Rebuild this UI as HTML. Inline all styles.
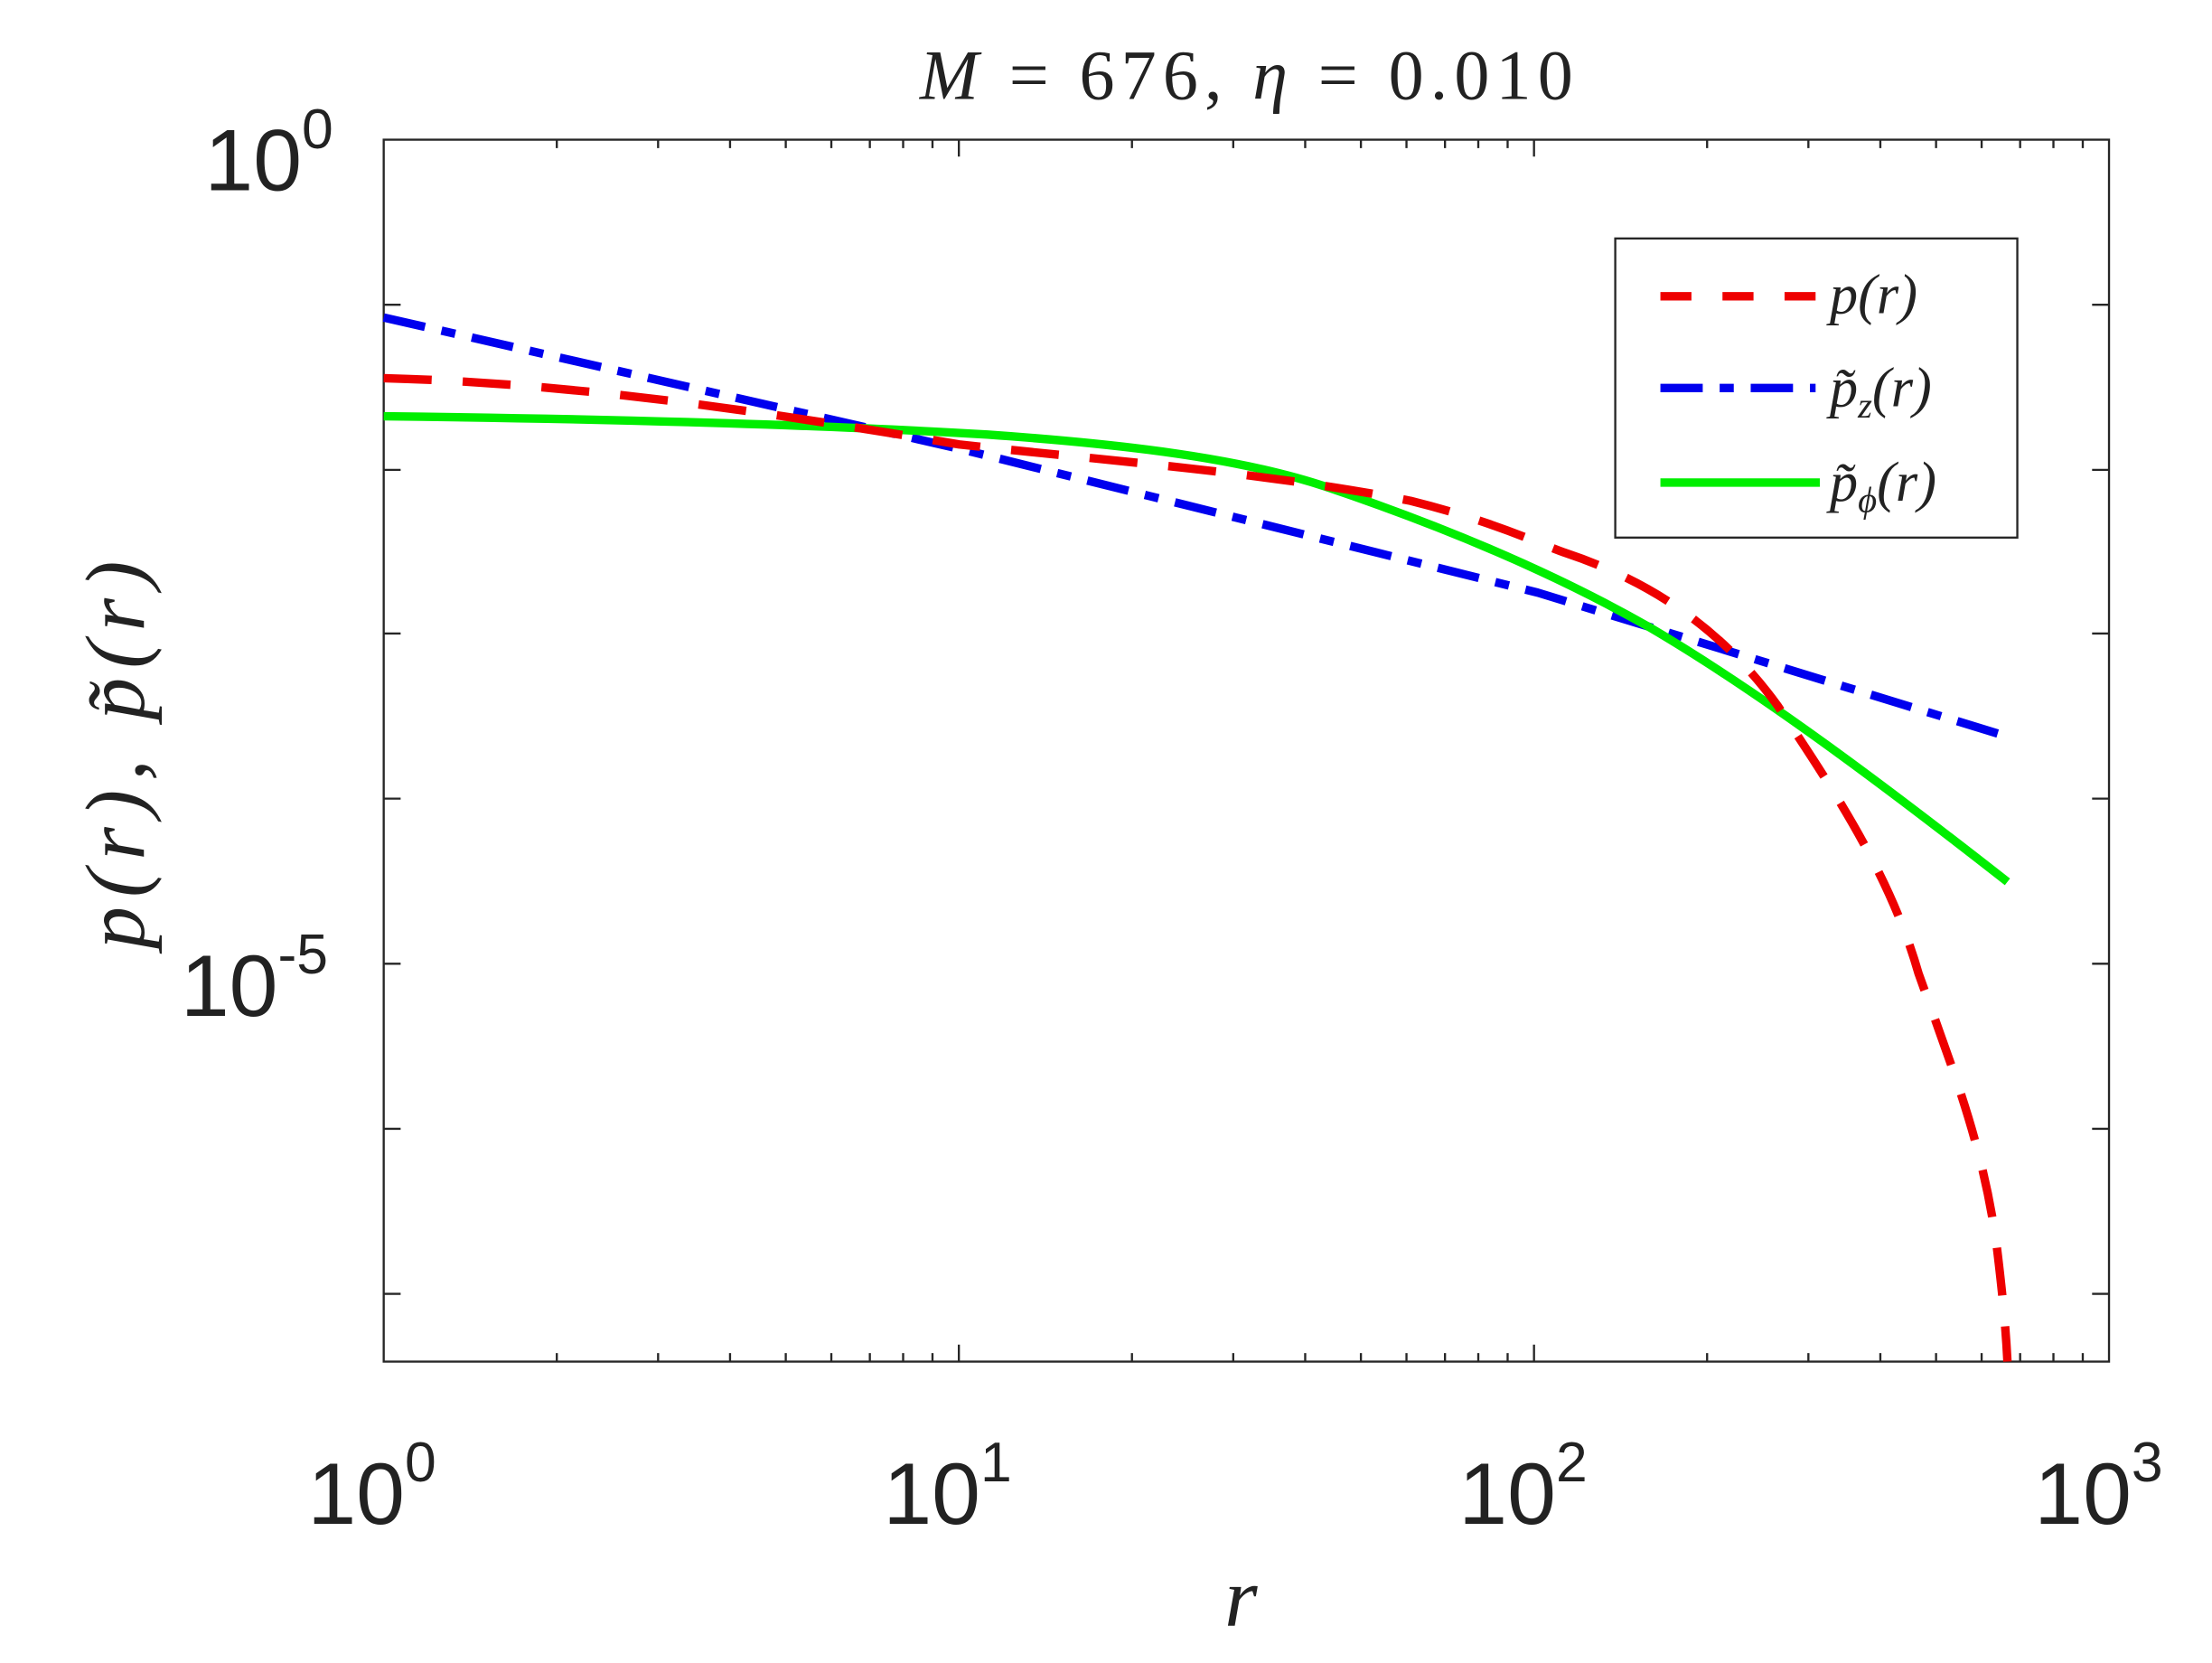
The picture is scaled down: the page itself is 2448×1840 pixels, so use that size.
<!DOCTYPE html>
<html><head><style>html,body{margin:0;padding:0;background:#fff;}svg{display:block;}</style></head>
<body>
<svg width="2448" height="1840" viewBox="0 0 1568 1178.6" preserveAspectRatio="none" xmlns="http://www.w3.org/2000/svg">
<rect width="1568" height="1179" fill="#fff"/>
<g stroke="#262626" stroke-width="1.5" fill="none">
<rect x="272" y="99" width="1223" height="866"/>
<path d="M272,216h12M272,333h12M272,449h12M272,566h12M272,683h12M272,800h12M272,917h12
M1495,216h-12M1495,333h-12M1495,449h-12M1495,566h-12M1495,683h-12M1495,800h-12M1495,917h-12
M679.7,965v-12M1087.4,965v-12M679.7,99v12M1087.4,99v12"/>
<path d="
M394.7,965v-6M466.5,965v-6M517.5,965v-6M557,965v-6M589.3,965v-6M616.6,965v-6M640.2,965v-6M661,965v-6
M802.4,965v-6M874.2,965v-6M925.2,965v-6M964.7,965v-6M997,965v-6M1024.3,965v-6M1047.9,965v-6M1068.7,965v-6
M1210.1,965v-6M1281.9,965v-6M1332.9,965v-6M1372.4,965v-6M1404.7,965v-6M1432,965v-6M1455.6,965v-6M1476.4,965v-6
M394.7,99v6M466.5,99v6M517.5,99v6M557,99v6M589.3,99v6M616.6,99v6M640.2,99v6M661,99v6
M802.4,99v6M874.2,99v6M925.2,99v6M964.7,99v6M997,99v6M1024.3,99v6M1047.9,99v6M1068.7,99v6
M1210.1,99v6M1281.9,99v6M1332.9,99v6M1372.4,99v6M1404.7,99v6M1432,99v6M1455.6,99v6M1476.4,99v6"/>
</g>
<g fill="none" stroke-width="6" stroke-linejoin="round">
<polyline stroke="#0000ee" stroke-dasharray="30,12,10,12" points="272,225 680,318 1090,420 1423,522"/>
<path stroke="#00ee00" d="M272,295 C450,297 600,302 700,308 C800,315 880,325 940,345 C1020,372 1100,405 1170,445 C1250,492 1340,560 1423,625"/>
<path stroke="#ee0000" stroke-dasharray="34,22" d="M272,268 C420,272 560,295 680,315 C780,326 900,335 1000,355 C1060,370 1090,385 1110,392 C1170,412 1220,445 1260,500 C1300,560 1340,620 1360,690 C1385,760 1405,810 1415,880 C1420,920 1422,945 1423,965"/>
</g>
<rect x="1145" y="169" width="285" height="212" fill="#fff" stroke="#262626" stroke-width="1.5"/>
<g stroke-width="6">
<line x1="1177" y1="210" x2="1287" y2="210" stroke="#ee0000" stroke-dasharray="22,22"/>
<line x1="1177" y1="275" x2="1287" y2="275" stroke="#0000ee" stroke-dasharray="30,12,10,12"/>
<line x1="1177" y1="342" x2="1290" y2="342" stroke="#00ee00"/>
</g>
<g font-family="Liberation Serif, serif" font-style="italic" font-size="40" fill="#222">
<text x="1297" y="222">p(r)</text>
<text x="1297" y="288">p̃<tspan font-size="26" dy="8">z</tspan><tspan dy="-8">(r)</tspan></text>
<text x="1297" y="355">p̃<tspan font-size="26" dy="8">ϕ</tspan><tspan dy="-8">(r)</tspan></text>
<text x="652" y="70" font-size="50" textLength="463" lengthAdjust="spacing">M <tspan font-style="normal">= 676,</tspan> η <tspan font-style="normal">= 0.010</tspan></text>
<text x="868" y="1152" font-size="60">r</text>
<text transform="translate(102,535) rotate(-90)" text-anchor="middle" font-size="60" textLength="275" lengthAdjust="spacing">p(r), p̃(r)</text>
</g>
<g font-family="Liberation Sans, sans-serif" font-size="62" fill="#222">
<text x="145" y="135">10<tspan font-size="40" dy="-30">0</tspan></text>
<text x="128" y="720">10<tspan font-size="40" dy="-30">-5</tspan></text>
<text x="218" y="1080">10<tspan font-size="40" dy="-30">0</tspan></text>
<text x="626" y="1080">10<tspan font-size="40" dy="-30">1</tspan></text>
<text x="1034" y="1080">10<tspan font-size="40" dy="-30">2</tspan></text>
<text x="1442" y="1080">10<tspan font-size="40" dy="-30">3</tspan></text>
</g>
</svg>
</body></html>
